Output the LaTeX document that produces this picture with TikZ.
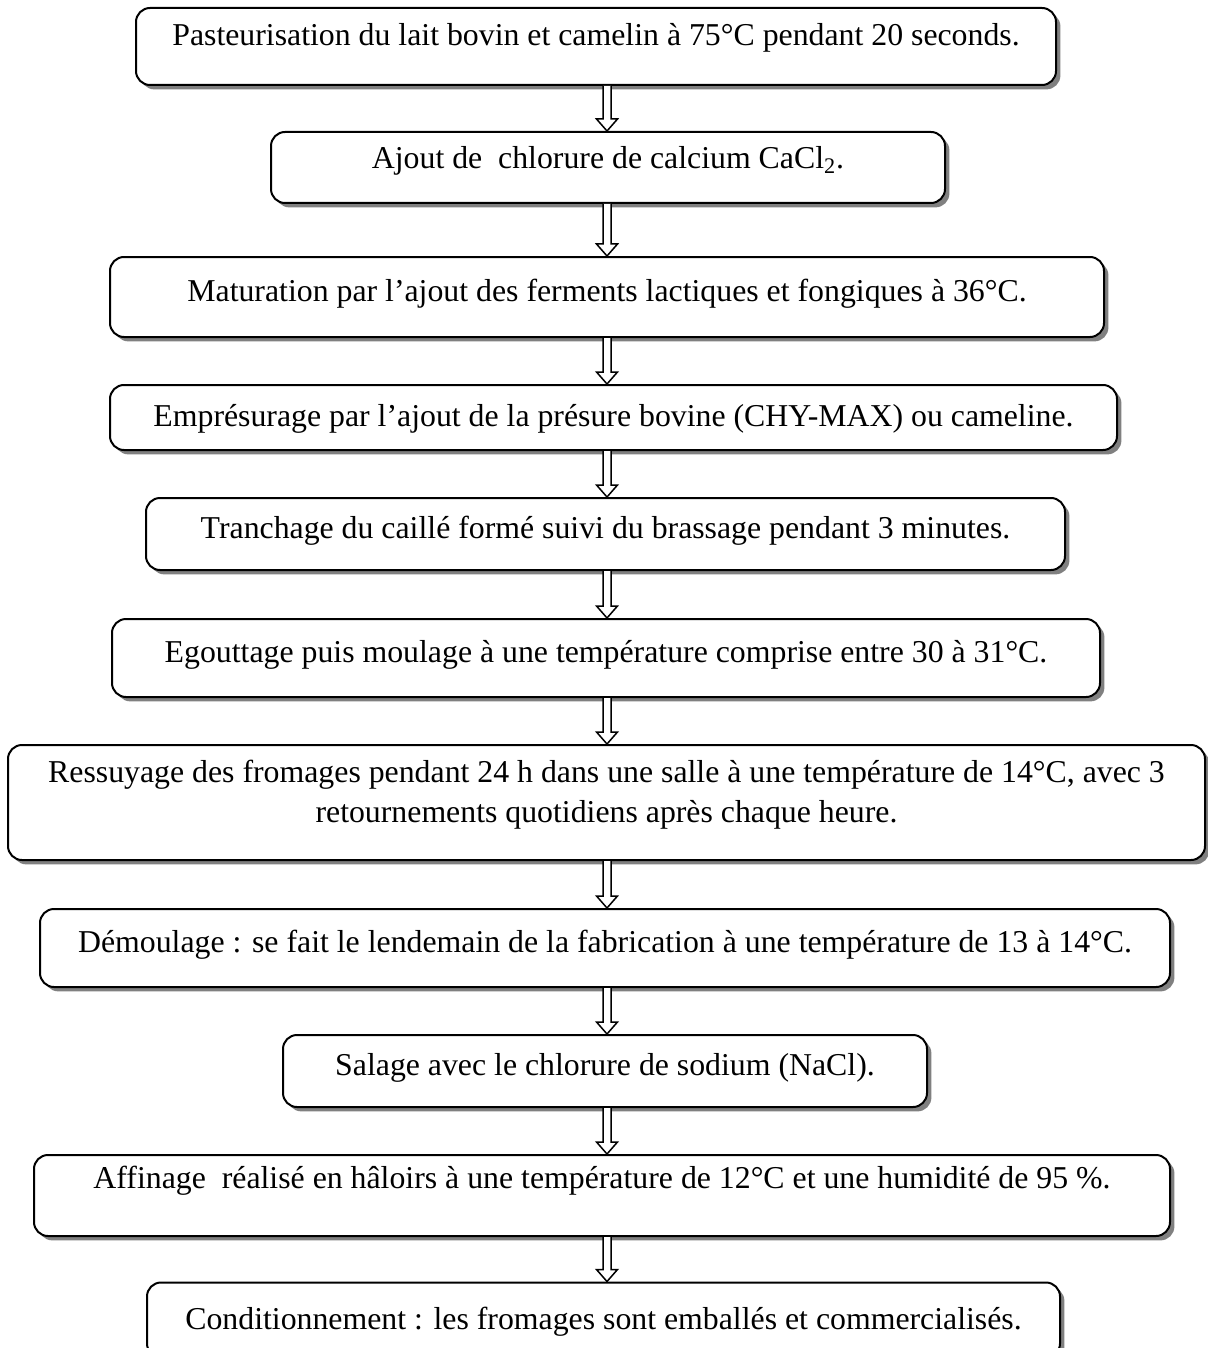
\documentclass[tikz,border=0pt]{standalone}
\usepackage{fontspec}
\setmainfont{Liberation Serif}
\usetikzlibrary{shadows,calc}
\begin{document}
\begin{tikzpicture}[x=0.5pt,y=-0.5pt]
\tikzstyle{every node}+=[inner sep=0pt]
\tikzstyle{etape}=[draw=black, line width=1pt, rounded corners=7pt, fill=white, align=center, font=\fontsize{15.9}{20}\selectfont, text depth=7pt, drop shadow={shadow xshift=2.2pt, shadow yshift=-2.2pt, fill=black!50, opacity=1}]
\tikzstyle{fleche}=[draw=black, line width=0.75pt, fill=white, to path={let \p1=(\tikztostart), \p2=(\tikztotarget) in (\x1-2pt,\y1) -- (\x1-2pt,\y2+6pt) -- (\x1-5.25pt,\y2+6pt) -- (\x1,\y2) -- (\x1+5.25pt,\y2+6pt) -- (\x1+2pt,\y2+6pt) -- (\x1+2pt,\y1)}]
\useasboundingbox (0,0) rectangle (1208,1348);
\coordinate (axe) at (607,0);
\node [etape, text depth=12pt, minimum width=460pt, minimum height=38.5pt] (pasteur) at (596,46.5) {Pasteurisation du lait bovin et camelin à 75°C pendant 20 seconds.};
\node [etape, text depth=10pt, minimum width=337pt, minimum height=35.5pt] (calcium) at (608,167.5) {Ajout de\ \ chlorure de calcium CaCl\textsubscript{2}.};
\node [etape, minimum width=497pt, minimum height=40pt] (maturation) at (607,297) {Maturation par l’ajout des ferments lactiques et fongiques à 36°C.};
\node [etape, text depth=2pt, minimum width=503.5pt, minimum height=32.5pt] (presure) at (613.5,417.5) {Emprésurage par l’ajout de la présure bovine (CHY-MAX) ou cameline.};
\node [etape, minimum width=459.5pt, minimum height=36pt] (tranchage) at (605.5,534) {Tranchage du caillé formé suivi du brassage pendant 3 minutes.};
\node [etape, minimum width=494pt, minimum height=39pt] (egouttage) at (606,658) {Egouttage puis moulage à une température comprise entre 30 à 31°C.};
\node [etape, text depth=11pt, minimum width=598.5pt, minimum height=57.5pt] (ressuyage) at (606.5,802.5) {Ressuyage des fromages pendant 24 h dans une salle à une température de 14°C, avec 3\\ retournements quotidiens après chaque heure.};
\node [etape, minimum width=565pt, minimum height=39pt] (demoulage) at (605,948) {Démoulage : se fait le lendemain de la fabrication à une température de 13 à 14°C.};
\node [etape, minimum width=322pt, minimum height=36pt] (salage) at (605,1071) {Salage avec le chlorure de sodium (NaCl).};
\node [etape, text depth=18pt, minimum width=568pt, minimum height=40.5pt] (affinage) at (602,1195.5) {Affinage\ \ réalisé en hâloirs à une température de 12°C et une humidité de 95~\%.};
\node [etape, text depth=2pt, minimum width=456.5pt, minimum height=37.5pt] (condit) at (603.5,1320) {Conditionnement : les fromages sont emballés et commercialisés.};
\draw [fleche] (pasteur.south -| axe) to (calcium.north -| axe);
\draw [fleche] (calcium.south -| axe) to (maturation.north -| axe);
\draw [fleche] (maturation.south -| axe) to (presure.north -| axe);
\draw [fleche] (presure.south -| axe) to (tranchage.north -| axe);
\draw [fleche] (tranchage.south -| axe) to (egouttage.north -| axe);
\draw [fleche] (egouttage.south -| axe) to (ressuyage.north -| axe);
\draw [fleche] (ressuyage.south -| axe) to (demoulage.north -| axe);
\draw [fleche] (demoulage.south -| axe) to (salage.north -| axe);
\draw [fleche] (salage.south -| axe) to (affinage.north -| axe);
\draw [fleche] (affinage.south -| axe) to (condit.north -| axe);
\end{tikzpicture}
\end{document}
